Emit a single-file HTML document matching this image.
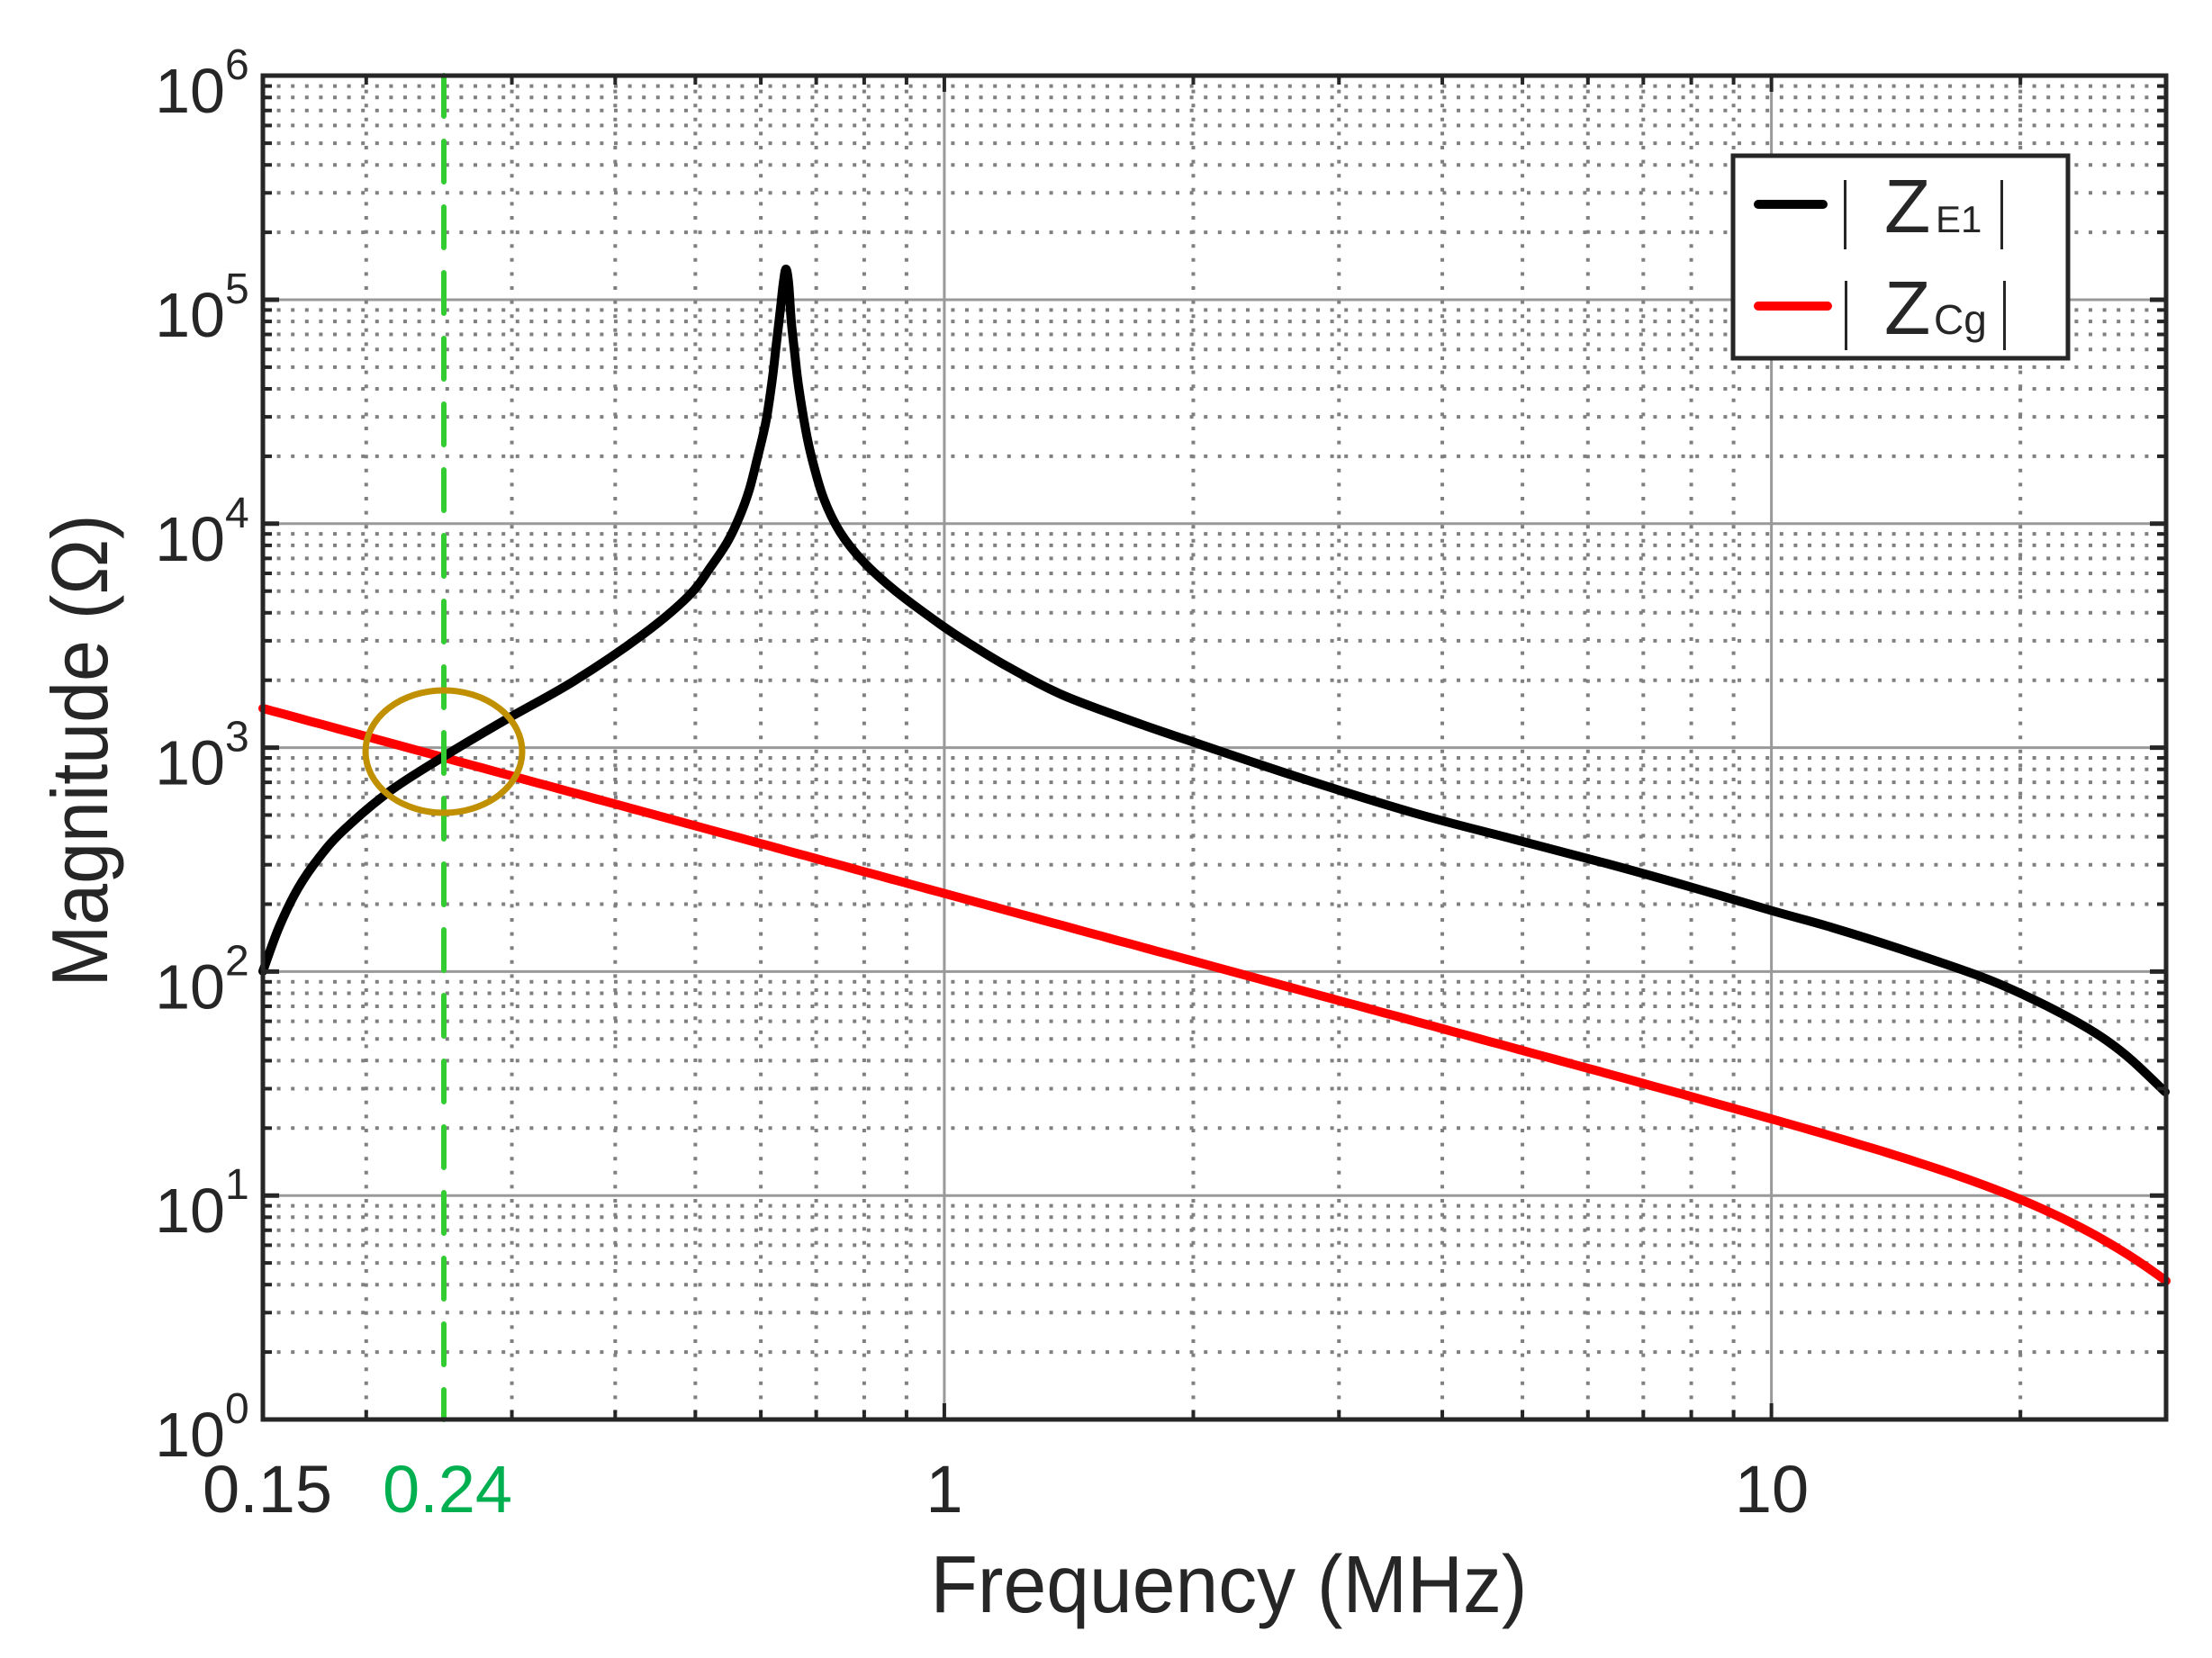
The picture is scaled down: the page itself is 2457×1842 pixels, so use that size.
<!DOCTYPE html>
<html><head><meta charset="utf-8"><style>
html,body{margin:0;padding:0;background:#fff;}
svg{display:block;}
text{font-family:"Liberation Sans",sans-serif;fill:#262626;}
</style></head><body>
<svg id="s" width="2457" height="1842" viewBox="0 0 2457 1842" xmlns="http://www.w3.org/2000/svg">
<g id="grid"></g>
<g id="curves"></g>
<line x1="493" y1="84" x2="493" y2="1577" stroke="#33CC33" stroke-width="6" stroke-dasharray="45 28" stroke-linecap="round"/>
<ellipse cx="493" cy="835" rx="87" ry="68" fill="none" stroke="#C09000" stroke-width="7"/>
<rect x="292" y="84" width="2114" height="1493" fill="none" stroke="#262626" stroke-width="5"/>
<g id="ticks"></g>
<g id="labels"></g>
<text x="297" y="1680" font-size="74" text-anchor="middle">0.15</text>
<text x="497" y="1680" font-size="74" text-anchor="middle" style="fill:#00B050">0.24</text>
<text x="1049" y="1680" font-size="74" text-anchor="middle">1</text>
<text x="1968" y="1680" font-size="74" text-anchor="middle">10</text>
<text x="1365" y="1791" font-size="90" text-anchor="middle" textLength="663" lengthAdjust="spacingAndGlyphs">Frequency (MHz)</text>
<text transform="translate(119,834) rotate(-90)" font-size="88" text-anchor="middle" textLength="525" lengthAdjust="spacingAndGlyphs">Magnitude (Ω)</text>
<rect x="1925" y="173" width="372" height="225" fill="#fff" stroke="#262626" stroke-width="5"/>
<line x1="1953" y1="227" x2="2025" y2="227" stroke="#000" stroke-width="10" stroke-linecap="round"/>
<line x1="1953" y1="340" x2="2030" y2="340" stroke="#FF0000" stroke-width="10" stroke-linecap="round"/>
<rect x="2048" y="200" width="3" height="77" fill="#262626"/>
<rect x="2222" y="200" width="3" height="77" fill="#262626"/>
<rect x="2049" y="312" width="3" height="77" fill="#262626"/>
<rect x="2225" y="312" width="3" height="77" fill="#262626"/>
<text x="2093" y="258" font-size="84">Z</text>
<text x="2150" y="258" font-size="42">E1</text>
<text x="2093" y="371" font-size="84">Z</text>
<text x="2148" y="371" font-size="46">Cg</text>
</svg>
<script>
(function(){
var NS="http://www.w3.org/2000/svg";
var L=292,R=2406,T=84,B=1577,DX=918.7,DY=248.8;
function X(f){return L+(Math.log10(f)-Math.log10(0.15))*DX;}
function Y(v){return B-Math.log10(v)*DY;}
function el(p,n,a){var e=document.createElementNS(NS,n);for(var k in a)e.setAttribute(k,a[k]);p.appendChild(e);return e;}
var g=document.getElementById('grid'),tk=document.getElementById('ticks'),lb=document.getElementById('labels');
for(var d=0;d<6;d++){for(var m=1;m<10;m++){var v=m*Math.pow(10,d);var y=Y(v);
 if(m==1){if(d>0){el(g,'line',{x1:L,y1:y,x2:R,y2:y,stroke:'#999',"stroke-width":3});}
  el(tk,'line',{x1:L,y1:y,x2:L+18,y2:y,stroke:'#262626',"stroke-width":5});
  el(tk,'line',{x1:R-18,y1:y,x2:R,y2:y,stroke:'#262626',"stroke-width":5});}
 else{el(g,'line',{x1:L,y1:y,x2:R,y2:y,stroke:'#808080',"stroke-width":4,"stroke-dasharray":"4 11.6"});
  el(tk,'line',{x1:L,y1:y,x2:L+10,y2:y,stroke:'#262626',"stroke-width":4});
  el(tk,'line',{x1:R-10,y1:y,x2:R,y2:y,stroke:'#262626',"stroke-width":4});}
}}
for(var d=0;d<=6;d++){var y=Y(Math.pow(10,d));
 var t=el(lb,'text',{x:250,y:y+41,"font-size":70,"text-anchor":"end"});t.textContent="10";
 var s=el(lb,'text',{x:250,y:y+4,"font-size":48});s.textContent=String(d);}
var xs=[0.2,0.3,0.4,0.5,0.6,0.7,0.8,0.9,1,2,3,4,5,6,7,8,9,10,20];
xs.forEach(function(f){var x=X(f);var maj=(f==1||f==10);
 if(maj)el(g,'line',{x1:x,y1:T,x2:x,y2:B,stroke:'#999',"stroke-width":3});
 else el(g,'line',{x1:x,y1:T,x2:x,y2:B,stroke:'#808080',"stroke-width":4,"stroke-dasharray":"4 11.6"});
 var len=maj?18:10;
 el(tk,'line',{x1:x,y1:B,x2:x,y2:B-len,stroke:'#262626',"stroke-width":4});
 el(tk,'line',{x1:x,y1:T,x2:x,y2:T+len,stroke:'#262626',"stroke-width":4});
});
function cr(P){var d="M"+P[0][0]+","+P[0][1];
 for(var i=0;i<P.length-1;i++){var p0=P[i-1]||P[i],p1=P[i],p2=P[i+1],p3=P[i+2]||p2;
  var c1=[p1[0]+(p2[0]-p0[0])/6,p1[1]+(p2[1]-p0[1])/6],c2=[p2[0]-(p3[0]-p1[0])/6,p2[1]-(p3[1]-p1[1])/6];
  d+=" C"+c1[0].toFixed(1)+","+c1[1].toFixed(1)+" "+c2[0].toFixed(1)+","+c2[1].toFixed(1)+" "+p2[0]+","+p2[1];}
 return d;}
var cv=document.getElementById('curves');
var rp=[];for(var i=0;i<=200;i++){var lf=Math.log10(0.15)+i/200*(Math.log10(30)-Math.log10(0.15));var f=Math.pow(10,lf);
 var x=X(f);var y=787+0.2716*(x-L)+DY*Math.log10(1+Math.pow(f/32,4));rp.push((i?"L":"M")+x.toFixed(1)+","+y.toFixed(1));}
el(cv,'path',{d:rp.join(" "),fill:"none",stroke:"#FF0000","stroke-width":10,"stroke-linecap":"round","stroke-linejoin":"round"});
var bp=[[292,1079],[310,1030],[331,987],[355,952],[382,922],[433,879],[492,841],[561,800],[637,757],[714,705],[765,662],[790,629],[808,602],[821,575],[832,545],[841,510],[851,467],[858,420],[862,385],[867,342],[870,315],[873,299],[876,315],[879,358],[883,395],[887,429],[895,478],[902,510],[915,554],[933,591],[959,624],[994,656],[1045,694],[1080,717],[1120,741],[1180,772],[1260,802],[1336,828],[1450,866],[1570,903],[1680,932],[1787,960],[1880,986],[1969,1012],[2030,1029],[2110,1054],[2203,1086],[2260,1111],[2308,1136],[2340,1156],[2368,1178],[2405,1213]];
el(cv,'path',{d:cr(bp),fill:"none",stroke:"#000","stroke-width":10,"stroke-linecap":"round","stroke-linejoin":"round"});
})();
</script>
</body></html>
